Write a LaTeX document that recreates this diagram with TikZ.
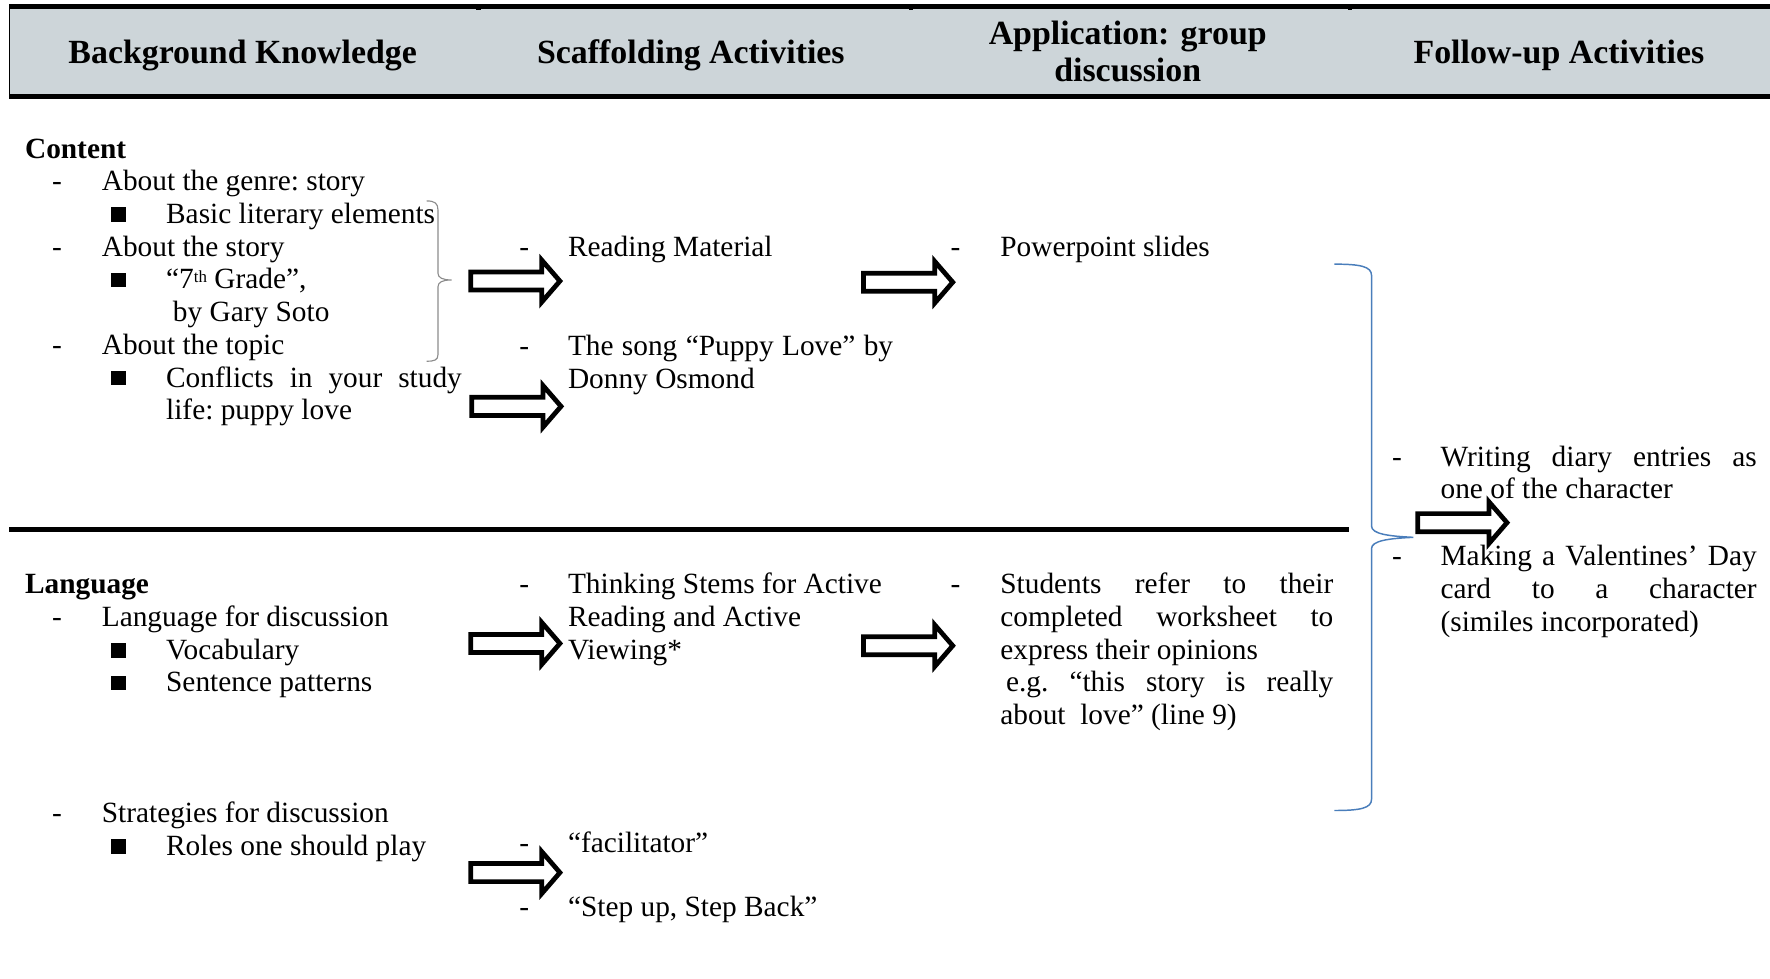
\documentclass[tikz,border=0pt]{standalone}
\usepackage{fontspec}
\setmainfont{Liberation Serif}
\definecolor{hdrgray}{HTML}{CDD5D9}
\definecolor{bracegray}{HTML}{8C8C8C}
\definecolor{braceblue}{HTML}{4A7EBB}
\tikzset{
  txt/.style={anchor=base west, inner sep=0pt, font=\fontsize{26}{29}\selectfont\frenchspacing},
  btxt/.style={anchor=base west, inner sep=0pt, font=\fontsize{26}{29}\selectfont\bfseries},
  hdr/.style={anchor=base, inner sep=0pt, font=\fontsize{30}{33}\selectfont\bfseries},
  sq/.style={fill=black, minimum size=13pt, inner sep=0pt},
  blockarrow/.pic={\draw[line width=4.2pt, fill=white, miter limit=10]
     (0,-8) -- (63,-8) -- (63,-18.5) -- (79,0) -- (63,18.5) -- (63,8) -- (0,8) -- cycle;},
}
\begin{document}
\begin{tikzpicture}[x=1pt,y=-1pt]
\useasboundingbox (0,0) rectangle (1568,867);
% header band
\fill[hdrgray] (8,8) rectangle (1568,83);
\draw[line width=4pt] (8,5.8) -- (1568,5.8);
\draw[line width=4.5pt] (8,85.5) -- (1568,85.5);
\draw[line width=1.5pt] (8.5,6) -- (8.5,85);
\foreach \tx in {422,805,1194} \fill (\tx,7.5) rectangle ++(4,1.6);
\node[hdr] (h1) at (215,56) {Background Knowledge};
\node[hdr] (h2) at (612,56) {Scaffolding Activities};
\node[hdr] (h3a) at (999,39) {Application: group};
\node[hdr] (h3b) at (999,72) {discussion};
\node[hdr] (h4) at (1381,56) {Follow-up Activities};
% middle divider
\draw[line width=4pt] (8,469) -- (1195,469);
% ---------- Content ----------
\node[btxt] (content) at (22,140) {Content};
\node[txt] (d1) at (46,169) {-};
\node[txt] (c1) at (90,169) {About the genre: story};
\node[sq] (s1) at (105,190) {};
\node[txt] (c2) at (147,198) {Basic literary elements};
\node[txt] (d2) at (46,227) {-};
\node[txt] (c3) at (90,227) {About the story};
\node[sq] (s2) at (105,248) {};
\node[txt] (c4) at (147,256) {“7\raisebox{6pt}{\fontsize{15}{15}\selectfont th} Grade”,};
\node[txt] (c5) at (153,285) {by Gary Soto};
\node[txt] (d3) at (46,314) {-};
\node[txt] (c6) at (90,314) {About the topic};
\node[sq] (s3) at (105,335) {};
\node[txt] (c7) at (147,343) {\makebox[262pt][s]{Conflicts in your study}};
\node[txt] (c8) at (147,372) {life: puppy love};
% gray brace
\draw[bracegray, line width=1pt] (378,178) .. controls (385,178) and (388,180) .. (388,186)
  -- (388,242) .. controls (388,246) and (392,248) .. (400,248)
  .. controls (392,248) and (388,250) .. (388,254)
  -- (388,314) .. controls (388,319) and (385,320) .. (378,320);
% ---------- Language ----------
\node[btxt] (lang) at (22,526) {Language};
\node[txt] (d4) at (46,555) {-};
\node[txt] (l1) at (90,555) {Language for discussion};
\node[sq] (s4) at (105,576) {};
\node[txt] (l2) at (147,584) {Vocabulary};
\node[sq] (s5) at (105,605) {};
\node[txt] (l3) at (147,613) {Sentence patterns};
\node[txt] (d5) at (46,729) {-};
\node[txt] (l4) at (90,729) {Strategies for discussion};
\node[sq] (s6) at (105,750) {};
\node[txt] (l5) at (147,758) {Roles one should play};
% ---------- Scaffolding ----------
\node[txt] (d6) at (460,227) {-};
\node[txt] (f1) at (503,227) {Reading Material};
\node[txt] (d7) at (460,315) {-};
\node[txt] (f2) at (503,315) {\makebox[288pt][s]{The song “Puppy Love” by}};
\node[txt] (f3) at (503,344) {Donny Osmond};
\node[txt] (d8) at (460,526) {-};
\node[txt] (f4) at (503,526) {Thinking Stems for Active};
\node[txt] (f5) at (503,555) {Reading and Active};
\node[txt] (f6) at (503,584) {Viewing*};
\node[txt] (d9) at (460,755) {-};
\node[txt] (f7) at (503,755) {“facilitator”};
\node[txt] (d10) at (460,812) {-};
\node[txt] (f8) at (503,812) {“Step up, Step Back”};
% ---------- Application ----------
\node[txt] (d11) at (842,227) {-};
\node[txt] (a1) at (886,227) {Powerpoint slides};
\node[txt] (d12) at (842,526) {-};
\node[txt] (a2) at (886,526) {\makebox[295pt][s]{Students refer to their}};
\node[txt] (a3) at (886,555) {\makebox[295pt][s]{completed worksheet to}};
\node[txt] (a4) at (886,584) {express their opinions};
\node[txt] (a5) at (891,613) {\makebox[290pt][s]{e.g. “this story is really}};
\node[txt] (a6) at (886,642) {about\ \ love” (line 9)};
% ---------- Follow-up ----------
\node[txt] (d13) at (1233,413) {-};
\node[txt] (u1) at (1276,413) {\makebox[280pt][s]{Writing diary entries as}};
\node[txt] (u2) at (1276,442) {one of the character};
\node[txt] (d14) at (1233,501) {-};
\node[txt] (u3) at (1276,501) {\makebox[280pt][s]{Making a Valentines’ Day}};
\node[txt] (u4) at (1276,530) {\makebox[280pt][s]{card to a character}};
\node[txt] (u5) at (1276,559) {(similes incorporated)};
% blue brace
\draw[braceblue, line width=1.3pt] (1182,234) .. controls (1205,234) and (1215,236) .. (1215,244)
  -- (1215,466) .. controls (1215,473) and (1230,475) .. (1252,476)
  .. controls (1230,477) and (1215,479) .. (1215,486)
  -- (1215,708) .. controls (1215,716) and (1205,718) .. (1182,718);
% block arrows
\pic (ar1) at (417,249) {blockarrow};
\pic (ar2) at (418,360) {blockarrow};
\pic (ar3) at (765,250) {blockarrow};
\pic (ar4) at (417,570) {blockarrow};
\pic (ar5) at (765,572) {blockarrow};
\pic (ar6) at (417,773) {blockarrow};
\pic (ar7) at (1256,463) {blockarrow};
\end{tikzpicture}
\end{document}
